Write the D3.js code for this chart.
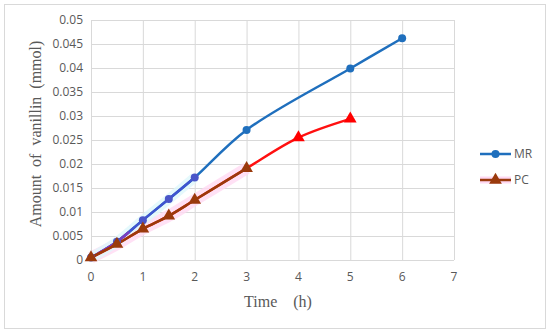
<!DOCTYPE html>
<html>
<head>
<meta charset="utf-8">
<script src="https://cdn.jsdelivr.net/npm/d3@7"></script>
<style>
  body { margin: 0; background: #fff; }
  svg { display: block; }
</style>
</head>
<body>
<svg id="chart" width="550" height="333"></svg>
<script>
// data
const timesMR = [0, 0.5, 1, 1.5, 2, 3, 5, 6];
const valuesMR = [0.0005, 0.0038, 0.0083, 0.0127, 0.0172, 0.0271, 0.0399, 0.0462];
const timesPC = [0, 0.5, 1, 1.5, 2, 3, 4, 5];
const valuesPC = [0.0005, 0.0033, 0.0065, 0.0092, 0.0125, 0.0191, 0.0255, 0.0294];
const xTicks = [0, 1, 2, 3, 4, 5, 6, 7];
const yTicks = [0, 0.005, 0.01, 0.015, 0.02, 0.025, 0.03, 0.035, 0.04, 0.045, 0.05];
const seriesNames = ["MR", "PC"];

const svg = d3.select("#chart");
const grey = "#595959";

// outer frame
svg.append("rect").attr("x", 4.5).attr("y", 4.5).attr("width", 541).attr("height", 324)
    .attr("fill", "#fff").attr("stroke", "#d9d9d9");

const x = d3.scaleLinear().domain([0, 7]).range([91, 454]);
const y = d3.scaleLinear().domain([0, 0.05]).range([260, 20]);

// gridlines
svg.append("g").selectAll("line").data(xTicks).join("line")
    .attr("x1", d => x(d) + 0.5).attr("x2", d => x(d) + 0.5)
    .attr("y1", y(0)).attr("y2", y(0.05))
    .attr("stroke", "#d9d9d9");
svg.append("g").selectAll("line").data(yTicks).join("line")
    .attr("x1", x(0)).attr("x2", x(7))
    .attr("y1", d => y(d) + 0.5).attr("y2", d => y(d) + 0.5)
    .attr("stroke", "#d9d9d9");

// tick labels
svg.append("g").selectAll("text").data(xTicks).join("text")
    .attr("x", d => x(d)).attr("y", 281)
    .attr("text-anchor", "middle")
    .attr("font-family", "Open Sans, sans-serif").attr("font-size", 12).attr("fill", grey)
    .text(d => d);
svg.append("g").selectAll("text").data(yTicks).join("text")
    .attr("x", 83).attr("y", d => y(d) + 4)
    .attr("text-anchor", "end")
    .attr("font-family", "Open Sans, sans-serif").attr("font-size", 12).attr("fill", grey)
    .text(d => d === 0 ? "0" : String(+d.toFixed(3)));

// axis titles
svg.append("text").attr("x", 278).attr("y", 307).attr("text-anchor", "middle")
    .attr("font-family", "Liberation Serif, serif").attr("font-size", 16).attr("fill", grey)
    .attr("xml:space", "preserve").text("Time    (h)");
svg.append("text").attr("transform", "translate(41,134) rotate(-90)").attr("text-anchor", "middle")
    .attr("font-family", "Liberation Serif, serif").attr("font-size", 16).attr("fill", grey)
    .attr("xml:space", "preserve").text("Amount  of  vanillin  (mmol)");

const mr = timesMR.map((t, i) => [t, valuesMR[i]]);
const pc = timesPC.map((t, i) => [t, valuesPC[i]]);
const line = d3.line().x(d => x(d[0])).y(d => y(d[1])).curve(d3.curveCatmullRom.alpha(0.5));

// soft highlight behind early points
svg.append("path").datum(pc.slice(0, 6)).attr("d", line)
    .attr("fill", "none").attr("stroke", "#ffd9f2").attr("stroke-width", 12).attr("opacity", 0.8);
svg.append("path").datum(mr.slice(0, 5)).attr("d", line)
    .attr("fill", "none").attr("stroke", "#dff7fb").attr("stroke-width", 10).attr("opacity", 0.8);

// MR line
svg.append("path").datum(mr).attr("d", line)
    .attr("fill", "none").attr("stroke", "#1f6fbd").attr("stroke-width", 2.5);
svg.append("path").datum(mr.slice(0, 5)).attr("d", line)
    .attr("fill", "none").attr("stroke", "#3f55d0").attr("stroke-width", 2.5);
svg.append("path").datum(mr.slice(0, 3)).attr("d", line)
    .attr("fill", "none").attr("stroke", "#7a3fc0").attr("stroke-width", 2.5)
    .attr("stroke-dasharray", "0,8,30");

// PC line
svg.append("path").datum(pc).attr("d", line)
    .attr("fill", "none").attr("stroke", "#ff1010").attr("stroke-width", 2.5);
svg.append("path").datum(pc.slice(0, 6)).attr("d", line)
    .attr("fill", "none").attr("stroke", "#9a3a0c").attr("stroke-width", 2.5);

// markers
svg.append("g").selectAll("circle").data(mr).join("circle")
    .attr("cx", d => x(d[0])).attr("cy", d => y(d[1])).attr("r", 4)
    .attr("fill", (d, i) => i < 5 ? "#4a55c8" : "#1f6fbd");
const tri = d3.symbol().type(d3.symbolTriangle).size(70);
svg.append("g").selectAll("path").data(pc).join("path")
    .attr("transform", d => `translate(${x(d[0])},${y(d[1])})`)
    .attr("d", tri)
    .attr("fill", (d, i) => i < 6 ? "#9a3a0c" : "#ff0000");

// legend
const legendY = [154, 180];
const legendColors = ["#1f6fbd", "#9a3a0c"];
seriesNames.forEach((name, i) => {
    const g = svg.append("g");
    if (i === 1) g.append("line").attr("x1", 480).attr("x2", 511).attr("y1", legendY[i]).attr("y2", legendY[i])
        .attr("stroke", "#ffd9f2").attr("stroke-width", 7);
    g.append("line").attr("x1", 480).attr("x2", 511).attr("y1", legendY[i]).attr("y2", legendY[i])
        .attr("stroke", legendColors[i]).attr("stroke-width", 2.5);
    if (i === 0) g.append("circle").attr("cx", 495.5).attr("cy", legendY[i]).attr("r", 4).attr("fill", legendColors[i]);
    else g.append("path").attr("transform", `translate(495.5,${legendY[i]})`).attr("d", tri).attr("fill", legendColors[i]);
    g.append("text").attr("x", 514).attr("y", legendY[i] + 4)
        .attr("font-family", "Open Sans, sans-serif").attr("font-size", 12).attr("fill", grey)
        .text(name);
});
</script>
</body>
</html>
